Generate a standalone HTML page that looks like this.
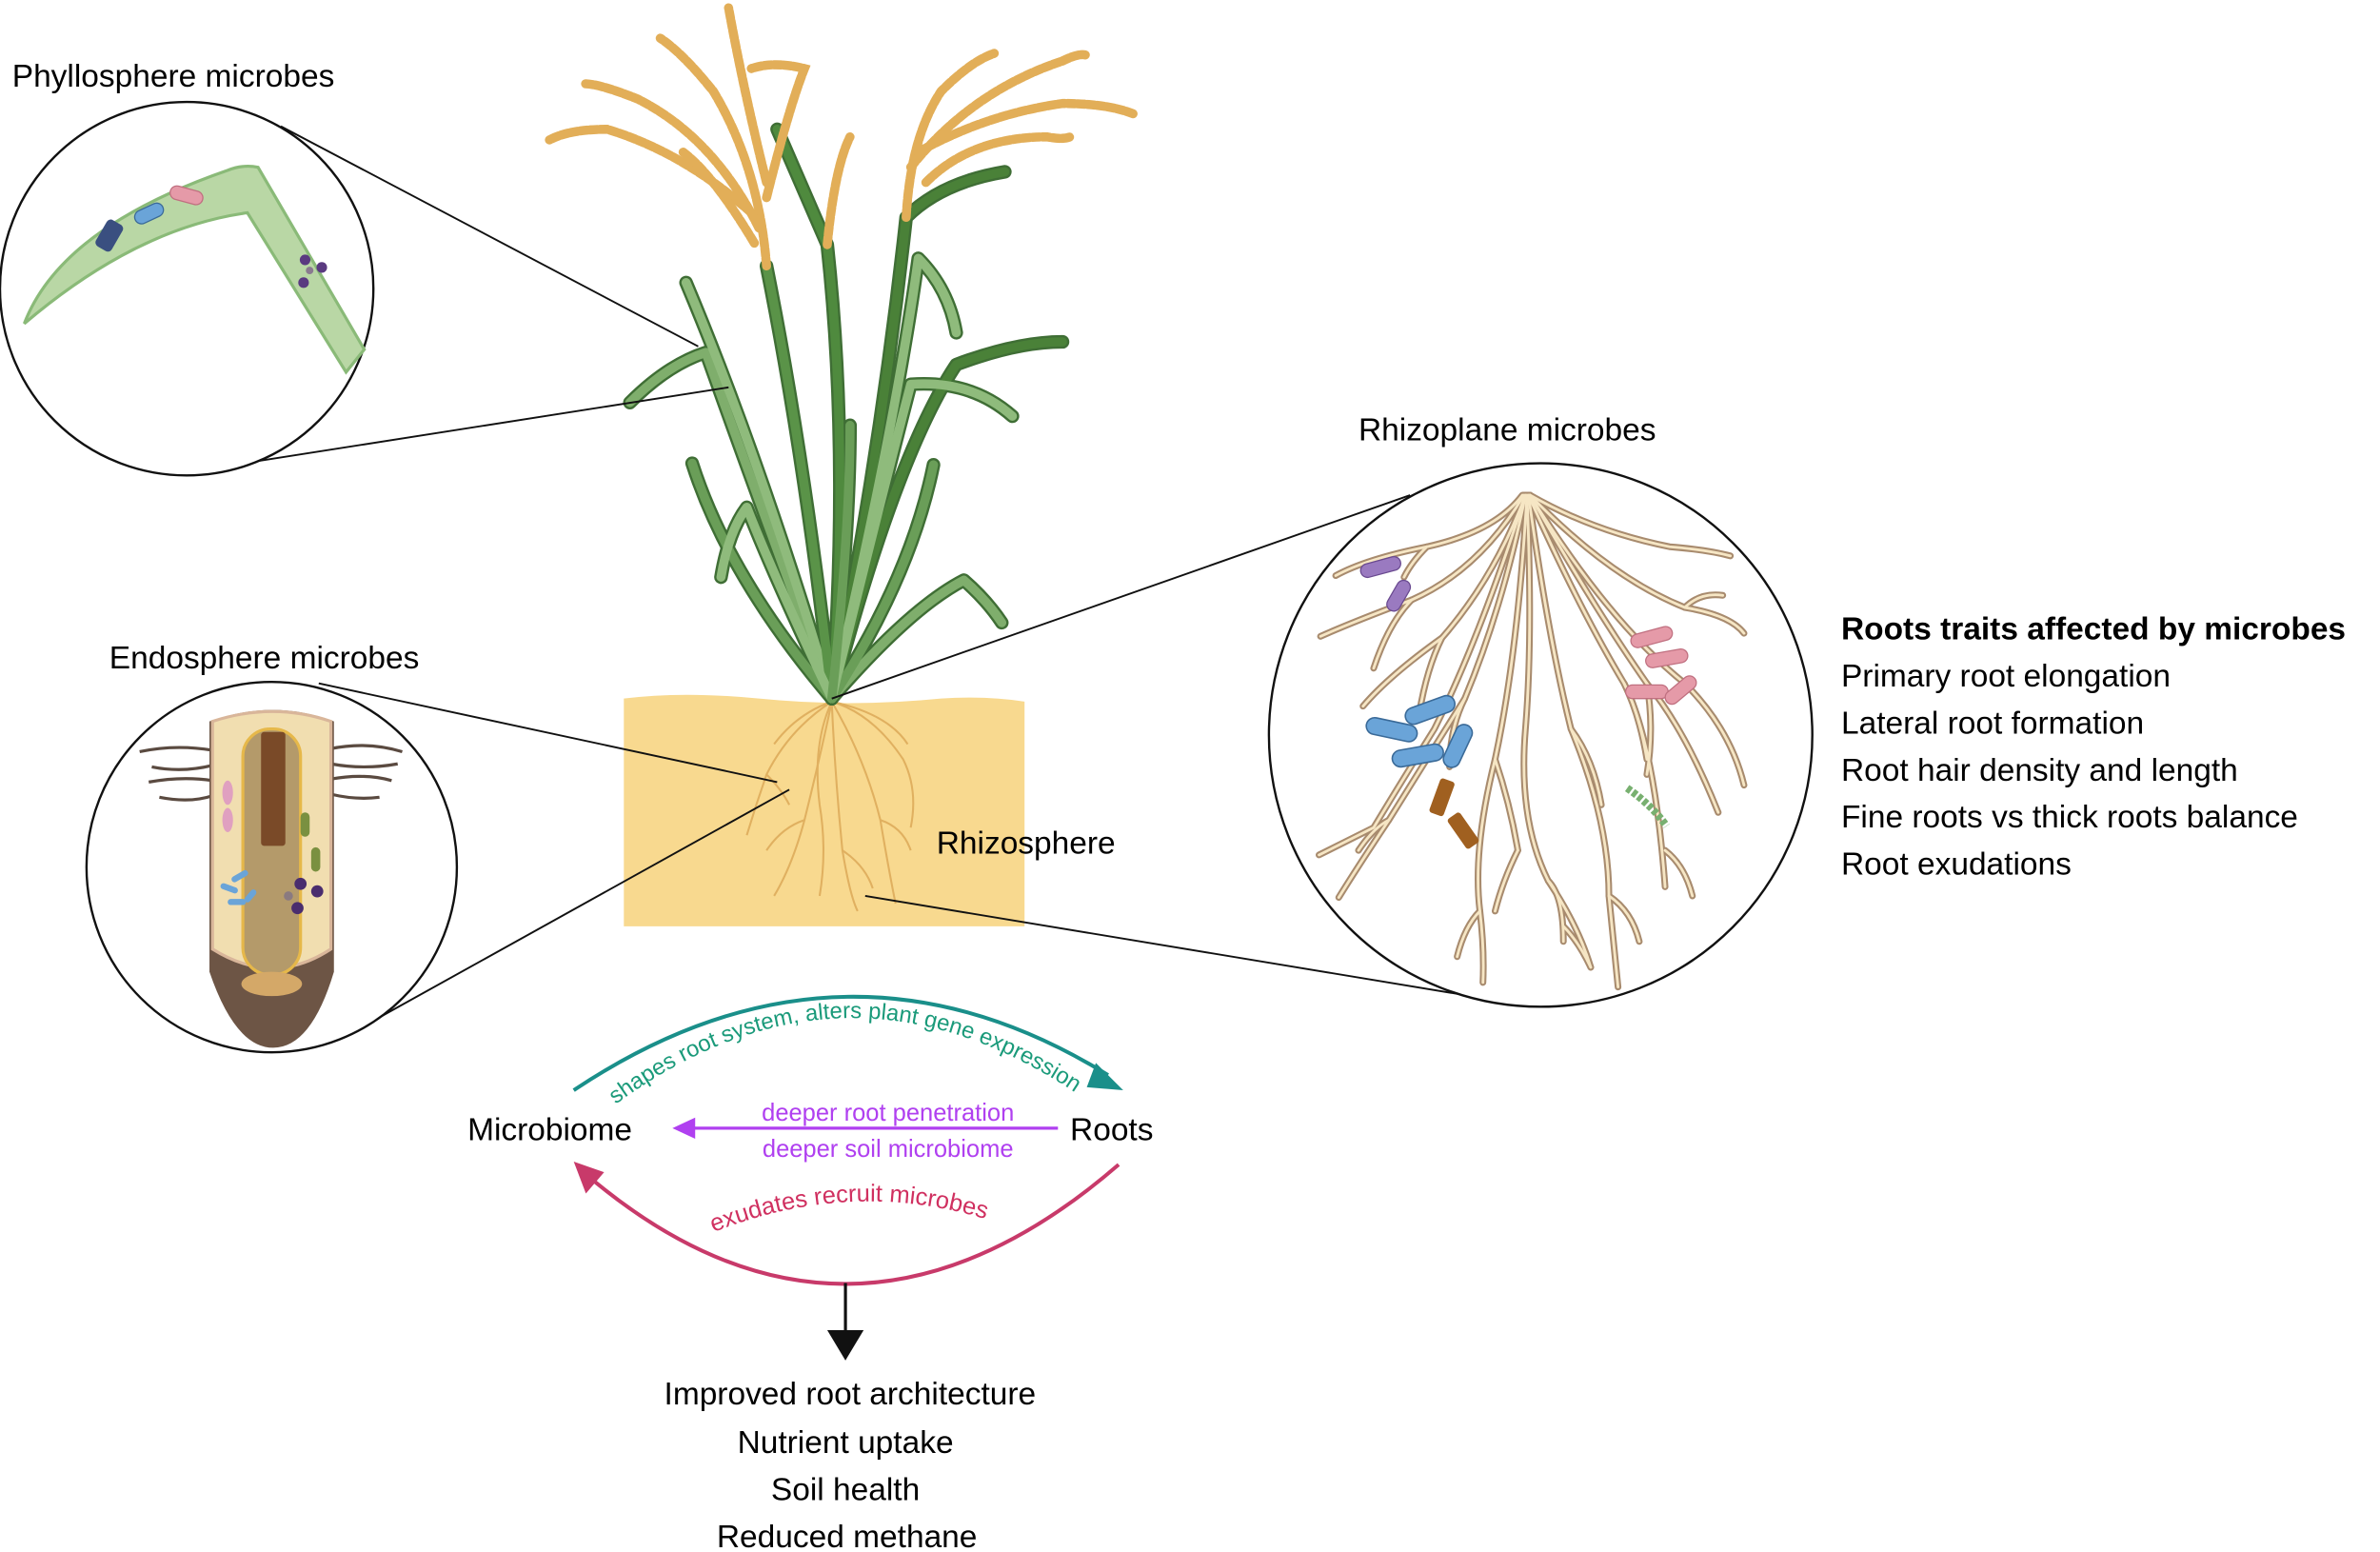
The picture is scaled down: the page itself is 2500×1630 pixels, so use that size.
<!DOCTYPE html>
<html><head><meta charset="utf-8"><style>
html,body{margin:0;padding:0;background:#fff;}
svg{display:block;}
text{font-family:"Liberation Sans",sans-serif;}
</style></head><body>
<svg width="2500" height="1630" viewBox="0 0 1568 1022" xmlns="http://www.w3.org/2000/svg">
<defs>
<clipPath id="rc"><circle cx="1015" cy="484" r="178"/></clipPath>
<g id="rp" fill="none">
<path d="M1003,326 Q985,350 940,360 Q900,368 880,379"/>
<path d="M1004,326 Q975,375 930,395 Q890,410 870,419"/>
<path d="M1005,326 Q985,380 950,420 Q915,445 898,465"/>
<path d="M1005,326 Q990,400 965,460 Q940,500 915,540 Q895,570 882,591"/>
<path d="M1005,326 Q975,420 945,480 Q920,520 905,545 Q885,555 869,563"/>
<path d="M1006,326 Q1000,430 985,500 Q970,560 975,600 Q978,625 977,647"/>
<path d="M1006,326 Q1010,420 1005,480 Q1000,540 1020,580 Q1040,610 1048,637"/>
<path d="M1007,326 Q1020,420 1035,480 Q1060,540 1060,590 Q1063,620 1066,650"/>
<path d="M1007,326 Q1040,400 1070,450 Q1090,490 1097,584"/>
<path d="M1008,326 Q1050,400 1085,450 Q1110,480 1132,535"/>
<path d="M1008,326 Q1060,410 1110,450 Q1140,480 1149,517"/>
<path d="M1008,326 Q1060,380 1110,400 Q1140,405 1149,417"/>
<path d="M1008,326 Q1050,350 1100,360 Q1125,362 1140,366"/>
<path d="M940,360 Q930,370 925,380"/><path d="M930,395 Q915,410 905,440"/>
<path d="M950,420 Q940,440 935,470"/><path d="M965,460 Q955,480 955,505"/>
<path d="M985,500 Q995,530 1000,560"/><path d="M1035,480 Q1050,500 1055,530"/>
<path d="M1070,450 Q1080,470 1085,500"/><path d="M1085,450 Q1090,480 1085,510"/>
<path d="M1110,400 Q1120,390 1135,392"/><path d="M1020,580 Q1030,590 1030,620"/>
<path d="M975,600 Q965,610 960,630"/><path d="M1060,590 Q1075,600 1080,620"/>
<path d="M915,540 Q905,545 895,560"/><path d="M1097,560 Q1110,570 1115,590"/>
<path d="M1000,560 Q990,580 985,600"/><path d="M1048,637 Q1040,620 1030,610"/>
</g>
</defs>
<rect width="1568" height="1022" fill="#fff"/>

<!-- soil -->
<path d="M411,460 Q450,455 500,460 Q560,466 620,460 Q650,458 675,462 L675,610 L411,610 Z" fill="#f8d98f"/>
<g stroke="#e0b060" stroke-width="1.3" fill="none">
<path d="M548,462 Q540,500 530,540 Q522,570 510,590"/>
<path d="M548,462 Q550,510 555,560 Q560,590 565,600"/>
<path d="M548,462 Q570,500 580,540 Q585,570 590,595"/>
<path d="M548,462 Q520,480 505,510 Q498,530 492,550"/>
<path d="M548,462 Q575,470 595,500 Q605,520 600,545"/>
<path d="M548,462 Q535,490 540,530 Q545,560 540,590"/>
<path d="M530,540 Q515,545 505,560"/><path d="M555,560 Q570,570 575,585"/>
<path d="M580,540 Q595,545 600,560"/><path d="M505,510 Q515,520 520,530"/>
<path d="M548,462 Q525,470 510,490"/><path d="M548,462 Q585,470 598,490"/>
</g>

<!-- plant leaves -->
<g fill="none" stroke-linecap="round" stroke-linejoin="round">
<g stroke="#3f6e35" stroke-width="9">
<path d="M548,460 Q500,330 465,232 Q440,240 415,265"/>
<path d="M548,460 Q500,300 452,186"/>
<path d="M548,460 Q560,300 545,161 L512,85"/>
<path d="M548,460 Q530,300 505,175"/>
<path d="M548,460 Q580,300 597,143 Q620,120 662,113"/>
<path d="M548,460 Q590,300 630,240 Q670,225 700,225"/>
<path d="M548,460 Q580,330 600,253 Q640,250 667,274"/>
<path d="M548,460 Q600,400 635,382 Q650,395 660,410"/>
<path d="M548,460 Q600,380 615,306"/>
<path d="M548,460 Q480,380 456,305"/>
<path d="M548,460 Q510,380 492,334 Q480,350 475,380"/>
<path d="M548,460 Q590,280 605,170 Q625,190 630,219"/>
<path d="M548,460 Q560,350 560,280"/>
</g>
<g stroke-width="6">
<path d="M548,460 Q500,330 465,232 Q440,240 415,265" stroke="#7fae6c"/>
<path d="M548,460 Q500,300 452,186" stroke="#8fbb7c"/>
<path d="M548,460 Q560,300 545,161 L512,85" stroke="#4f8a3e"/>
<path d="M548,460 Q530,300 505,175" stroke="#5a9348"/>
<path d="M548,460 Q580,300 597,143 Q620,120 662,113" stroke="#4a8138"/>
<path d="M548,460 Q590,300 630,240 Q670,225 700,225" stroke="#4a8138"/>
<path d="M548,460 Q580,330 600,253 Q640,250 667,274" stroke="#8fbb7c"/>
<path d="M548,460 Q600,400 635,382 Q650,395 660,410" stroke="#7fae6c"/>
<path d="M548,460 Q600,380 615,306" stroke="#6a9e58"/>
<path d="M548,460 Q480,380 456,305" stroke="#6a9e58"/>
<path d="M548,460 Q510,380 492,334 Q480,350 475,380" stroke="#8fbb7c"/>
<path d="M548,460 Q590,280 605,170 Q625,190 630,219" stroke="#8fbb7c"/>
<path d="M548,460 Q560,350 560,280" stroke="#6a9e58"/>
</g>
</g>
<!-- panicles -->
<g fill="none" stroke="#e2ae58" stroke-width="6" stroke-linecap="round" stroke-dasharray="5 1.5">
<path d="M505,175 Q500,110 470,60 Q450,35 435,25"/>
<path d="M500,150 Q470,90 420,65 Q395,55 385,55"/>
<path d="M495,140 Q450,100 400,85 Q375,85 362,92"/>
<path d="M505,120 Q490,60 480,5"/>
<path d="M505,130 Q520,70 530,45 Q510,40 495,45"/>
<path d="M497,160 Q470,115 450,100"/>
<path d="M597,143 Q600,90 620,60 Q640,40 655,35"/>
<path d="M600,110 Q640,60 700,40 Q710,35 715,36"/>
<path d="M605,100 Q650,75 700,68 Q730,68 747,75"/>
<path d="M610,120 Q640,90 690,90 Q700,92 705,90"/>
<path d="M545,161 Q550,110 560,90"/>
</g>

<!-- Phyllosphere -->
<text x="8" y="57" font-size="21">Phyllosphere microbes</text>
<line x1="185" y1="83" x2="460" y2="228" stroke="#111" stroke-width="1.2"/>
<line x1="167" y1="304" x2="480" y2="255" stroke="#111" stroke-width="1.2"/>
<circle cx="123" cy="190" r="123" fill="#fff" stroke="#111" stroke-width="1.5"/>
<path d="M16,213 Q40,150 150,112 Q160,108 170,110 L240,230 L228,245 L163,140 Q90,150 16,213 Z" fill="#b9d7a5" stroke="#8aba78" stroke-width="2"/>
<rect x="66" y="145" width="12" height="20" rx="3" fill="#3a4f80" transform="rotate(30 72 155)"/>
<rect x="88" y="136" width="20" height="9" rx="4.5" fill="#6aa4d8" stroke="#3a6a98" stroke-width="0.8" transform="rotate(-25 98 140)"/>
<rect x="112" y="124" width="22" height="9" rx="4.5" fill="#e59aa8" stroke="#c07080" stroke-width="0.8" transform="rotate(15 123 128)"/>
<circle cx="201" cy="171" r="3.5" fill="#5a3a80"/><circle cx="212" cy="176" r="3.5" fill="#5a3a80"/><circle cx="200" cy="186" r="3.5" fill="#5a3a80"/><circle cx="204" cy="178" r="2.5" fill="#8a7a90"/>

<!-- Endosphere -->
<text x="72" y="440" font-size="21">Endosphere microbes</text>
<line x1="210" y1="450" x2="512" y2="515" stroke="#111" stroke-width="1.2"/>
<line x1="250" y1="670" x2="520" y2="520" stroke="#111" stroke-width="1.2"/>
<circle cx="179" cy="571" r="122" fill="#fff" stroke="#111" stroke-width="1.5"/>
<g stroke="#5a4a40" stroke-width="2" fill="none">
<path d="M92,495 Q115,490 140,494"/><path d="M100,505 Q120,509 140,504"/><path d="M98,515 Q120,511 140,514"/><path d="M105,525 Q125,529 140,524"/>
<path d="M218,493 Q242,488 265,495"/><path d="M218,503 Q240,507 262,503"/><path d="M218,513 Q240,509 258,514"/><path d="M218,523 Q235,527 250,525"/>
</g>
<path d="M138,475 Q180,460 220,475 L220,640 Q205,690 180,690 Q155,690 138,640 Z" fill="#6d5545"/>
<path d="M140,475 Q180,462 218,475 L218,625 Q180,650 140,625 Z" fill="#f1deb0" stroke="#d9b69a" stroke-width="2"/>
<rect x="160" y="480" width="38" height="162" rx="18" fill="#b49a6a" stroke="#e6b84a" stroke-width="2"/>
<ellipse cx="179" cy="648" rx="20" ry="8" fill="#d4a868"/>
<rect x="172" y="482" width="16" height="75" rx="2" fill="#7a4a28"/>
<ellipse cx="150" cy="522" rx="3.5" ry="8" fill="#e0a0c0"/>
<ellipse cx="150" cy="540" rx="3.5" ry="8" fill="#e0a0c0"/>
<rect x="198" y="535" width="6" height="16" rx="3" fill="#7a9040"/>
<rect x="205" y="558" width="6" height="16" rx="3" fill="#7a9040"/>
<circle cx="198" cy="582" r="4" fill="#4a2d6e"/><circle cx="209" cy="587" r="4" fill="#4a2d6e"/><circle cx="196" cy="598" r="4" fill="#4a2d6e"/><circle cx="190" cy="590" r="3" fill="#8a7a80"/>
<rect x="145" y="583" width="12" height="4" rx="2" fill="#6aa4d8" transform="rotate(20 151 585)"/>
<rect x="152" y="575" width="12" height="4" rx="2" fill="#6aa4d8" transform="rotate(-30 158 577)"/>
<rect x="150" y="592" width="12" height="4" rx="2" fill="#6aa4d8"/>
<rect x="160" y="588" width="10" height="4" rx="2" fill="#6aa4d8" transform="rotate(-50 165 590)"/>

<!-- Rhizoplane -->
<text x="895" y="290" font-size="21">Rhizoplane microbes</text>
<line x1="929" y1="326" x2="548" y2="460" stroke="#111" stroke-width="1.2"/>
<line x1="570" y1="590" x2="963" y2="655" stroke="#111" stroke-width="1.2"/>
<circle cx="1015" cy="484" r="179" fill="#fff" stroke="#111" stroke-width="1.5"/>
<g clip-path="url(#rc)" stroke-linecap="round">
<use href="#rp" stroke="#a88b6e" stroke-width="4.4"/>
<use href="#rp" stroke="#f6e6c4" stroke-width="1.8"/>
</g>
<rect x="896" y="369" width="27" height="9" rx="4.5" fill="#9a7ac0" stroke="#6a4a90" stroke-width="0.8" transform="rotate(-15 909 373)"/>
<rect x="910" y="388" width="22" height="9" rx="4.5" fill="#9a7ac0" stroke="#6a4a90" stroke-width="0.8" transform="rotate(-60 921 392)"/>
<rect x="925" y="462" width="34" height="11" rx="5.5" fill="#6aa4d8" stroke="#3a6a98" stroke-width="1" transform="rotate(-20 942 467)"/>
<rect x="900" y="475" width="34" height="11" rx="5.5" fill="#6aa4d8" stroke="#3a6a98" stroke-width="1" transform="rotate(12 917 480)"/>
<rect x="917" y="492" width="34" height="11" rx="5.5" fill="#6aa4d8" stroke="#3a6a98" stroke-width="1" transform="rotate(-10 934 497)"/>
<rect x="945" y="486" width="30" height="11" rx="5.5" fill="#6aa4d8" stroke="#3a6a98" stroke-width="1" transform="rotate(-65 960 491)"/>
<rect x="945" y="513" width="10" height="24" rx="2" fill="#a06020" transform="rotate(20 950 525)"/>
<rect x="959" y="535" width="10" height="24" rx="2" fill="#a06020" transform="rotate(-35 964 547)"/>
<rect x="1074" y="415" width="28" height="9" rx="4.5" fill="#e59aa8" stroke="#c07080" stroke-width="0.8" transform="rotate(-15 1088 419)"/>
<rect x="1084" y="429" width="28" height="9" rx="4.5" fill="#e59aa8" stroke="#c07080" stroke-width="0.8" transform="rotate(-10 1098 433)"/>
<rect x="1071" y="451" width="28" height="9" rx="4.5" fill="#e59aa8" stroke="#c07080" stroke-width="0.8"/>
<rect x="1095" y="450" width="24" height="9" rx="4.5" fill="#e59aa8" stroke="#c07080" stroke-width="0.8" transform="rotate(-40 1107 454)"/>
<path d="M1072,519 Q1088,530 1098,544" stroke="#78b070" stroke-width="5" stroke-dasharray="3 1.5" fill="none"/>

<text x="617" y="562" font-size="21">Rhizosphere</text>

<g font-size="21">
<text x="1213" y="421" font-weight="bold">Roots traits affected by microbes</text>
<text x="1213" y="452">Primary root elongation</text>
<text x="1213" y="483">Lateral root formation</text>
<text x="1213" y="514">Root hair density and length</text>
<text x="1213" y="545">Fine roots vs thick roots balance</text>
<text x="1213" y="576">Root exudations</text>
</g>

<!-- cycle -->
<text x="308" y="751" font-size="21">Microbiome</text>
<text x="705" y="751" font-size="21">Roots</text>
<path d="M378,718 Q555,600 730,708" stroke="#1a8f8a" stroke-width="2.5" fill="none"/>
<path d="M722,700 L740,718 L716,716 Z" fill="#1a8f8a"/>
<path id="tp" d="M402,730 Q555,615 712,722" fill="none"/>
<text font-size="15" fill="#1a9a7a"><textPath href="#tp" startOffset="50%" text-anchor="middle">shapes root system, alters plant gene expression</textPath></text>
<line x1="697" y1="743" x2="455" y2="743" stroke="#b040f0" stroke-width="2"/>
<path d="M443,743 L458,736 L458,750 Z" fill="#b040f0"/>
<text x="585" y="738" font-size="16" fill="#b040f0" text-anchor="middle">deeper root penetration</text>
<text x="585" y="762" font-size="16" fill="#b040f0" text-anchor="middle">deeper soil microbiome</text>
<path d="M737,767 Q560,920 388,775" stroke="#c83a6a" stroke-width="2.5" fill="none"/>
<path d="M378,765 L398,772 L386,786 Z" fill="#c83a6a"/>
<path id="bp" d="M455,818 Q560,770 665,808" fill="none"/>
<text font-size="16" fill="#d03060"><textPath href="#bp" startOffset="50%" text-anchor="middle">exudates recruit microbes</textPath></text>
<line x1="557" y1="845" x2="557" y2="878" stroke="#111" stroke-width="2"/>
<path d="M545,876 L569,876 L557,896 Z" fill="#111"/>
<g font-size="21" text-anchor="middle">
<text x="560" y="925">Improved root architecture</text>
<text x="557" y="957">Nutrient uptake</text>
<text x="557" y="988">Soil health</text>
<text x="558" y="1019">Reduced methane</text>
</g>
</svg>
</body></html>
